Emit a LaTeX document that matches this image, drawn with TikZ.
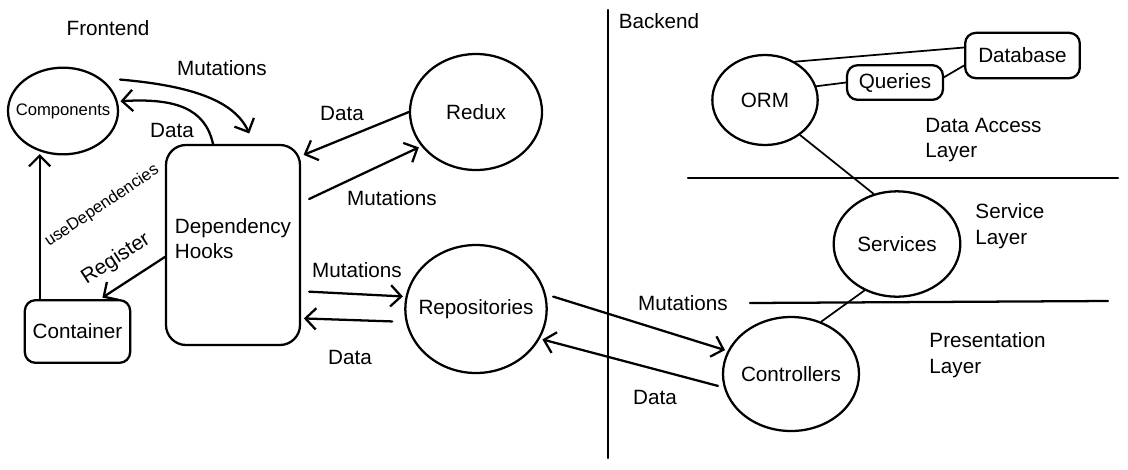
\documentclass[tikz,border=0pt]{standalone}
\usepackage{fontspec}
\setmainfont{Liberation Sans}
\usetikzlibrary{arrows.meta,shapes.geometric}

\begin{document}
\begin{tikzpicture}[
						x=0.75pt,
						y=-0.75pt,
						line width=1.7pt,
						line cap=round,
						font=\fontsize{15.5}{19}\selectfont,
						blob/.style={draw, ellipse, inner ysep=0pt, inner xsep=-20pt},
						box/.style={draw, rectangle, rounded corners=8pt, inner sep=0pt},
						lbl/.style={inner sep=1pt},
						flow/.style={-{Straight Barb[length=8pt,width=16pt]}, shorten >=2pt},
						link/.style={line width=1.3pt}
					]
					\useasboundingbox (0,0) rectangle (1128,469);

					\node[lbl] (front) at (108,28) {Frontend};
					\node[lbl] (back) at (659,21) {Backend};

					\node[blob, minimum width=82.5pt, minimum height=65pt, font=\fontsize{12.5}{15}\selectfont] (comp) at (63,111) {Components};
					\node[box, rounded corners=15pt, minimum width=100.5pt, minimum height=150pt, align=left] (hooks) at (233,245) {Dependency\\Hooks\\[-9pt]};
					\node[box, minimum width=79pt, minimum height=47pt] (cont) at (77.5,331.5) {Container};
					\node[blob, minimum width=99pt, minimum height=87pt] (redux) at (476,112) {Redux};
					\node[blob, minimum width=106pt, minimum height=96pt] (repo) at (476,309) {Repositories};

					\node[blob, minimum width=79pt, minimum height=67.5pt] (orm) at (765,100) {ORM};
					\node[box, minimum width=72pt, minimum height=26pt] (queries) at (895,82.5) {Queries};
					\node[box, minimum width=86pt, minimum height=34pt] (db) at (1022.5,55.5) {Database};
					\node[blob, minimum width=95pt, minimum height=79pt] (serv) at (897,244) {Services};
					\node[blob, minimum width=102pt, minimum height=85.5pt] (ctrl) at (791,374) {Controllers};

					\node[lbl, anchor=west, align=left] (dal) at (923,140) {Data Access\\Layer};
					\node[lbl, anchor=west, align=left] (sl) at (973,226) {Service\\Layer};
					\node[lbl, anchor=west, align=left] (pl) at (927,355) {Presentation\\Layer};

					\draw (608,10) -- (608,458);
					\draw (688,178) -- (1118,178);
					\draw (750,303) -- (1108,301);

					\draw[flow] ([xshift=13pt]comp.north east) .. controls (195,86) and (235,102) .. ([xshift=13pt,yshift=6pt]hooks.north);
					\draw[flow] ([xshift=-15pt]hooks.north) .. controls (205,108) and (175,98) .. (comp.10);
					\draw[flow] (cont.north west -| comp.240) -- (comp.240);
					\draw[flow] ([yshift=-9pt]hooks.west) -- ([xshift=17pt]cont.north);
					\draw[flow] (redux.west) -- ([yshift=-9pt]hooks.north east);
					\draw[flow] ([xshift=6pt,yshift=34.5pt]hooks.east) -- (redux.212);
					\draw[flow] ([xshift=6pt,yshift=-35pt]hooks.east) -- (repo.170);
					\draw[flow] ([xshift=-10pt]repo.190) -- ([yshift=-55pt]hooks.east);
					\draw[flow] ([xshift=5pt]repo.10) -- (ctrl.160);
					\draw[flow] ([xshift=-4pt]ctrl.190) -- (repo.335);

					\draw[link] (orm.52) -- ([yshift=6pt]db.west);
					\draw[link] (orm.15) -- (queries.west);
					\draw[link] ([yshift=4pt]queries.east) -- ([yshift=-7.5pt]db.west);
					\draw[link] (orm.315) -- (serv.115);
					\draw[link] (serv.235) -- (ctrl.60);

					\node[lbl] (l1) at (222,68) {Mutations};
					\node[lbl] (l2) at (172,130) {Data};
					\node[lbl, rotate=34, font=\fontsize{12.5}{15}\selectfont] (l3) at (102,206) {useDependencies};
					\node[lbl, rotate=33] (l4) at (116,259) {Register};
					\node[lbl] (l5) at (342,113) {Data};
					\node[lbl] (l6) at (392,198) {Mutations};
					\node[lbl] (l7) at (357,270) {Mutations};
					\node[lbl] (l8) at (350,357) {Data};
					\node[lbl] (l9) at (683,303) {Mutations};
					\node[lbl] (l10) at (655,397) {Data};
				\end{tikzpicture}
\end{document}
